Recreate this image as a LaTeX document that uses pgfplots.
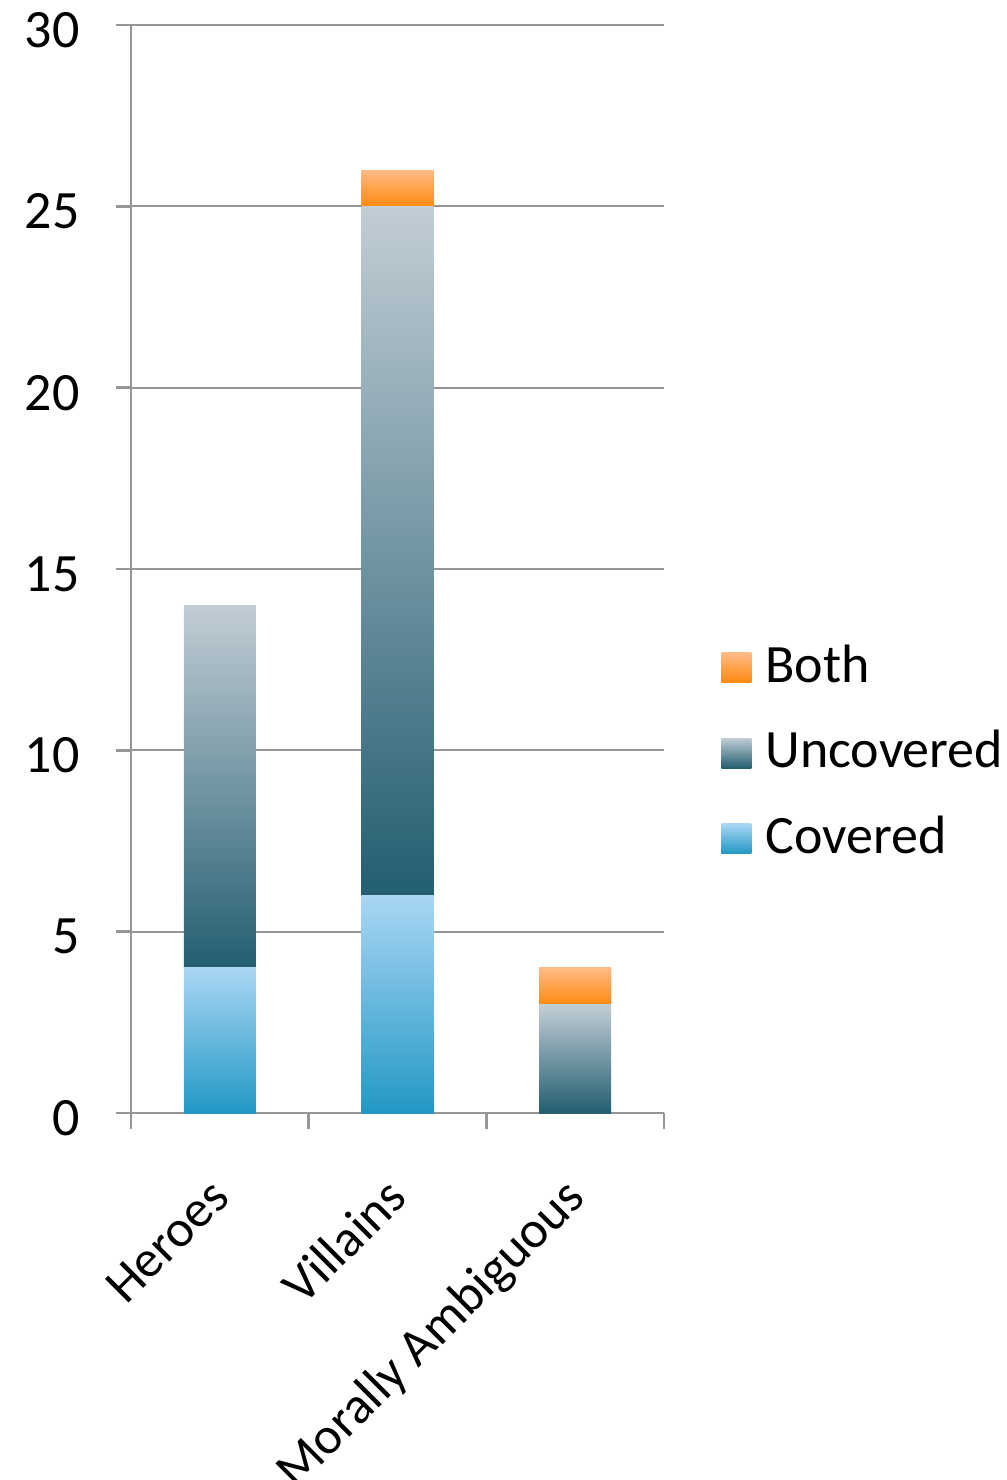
\documentclass[border=0pt]{standalone}
\usepackage{fontspec}
\setmainfont{Carlito}
\usepackage{pgfplots}
\pgfplotsset{compat=1.18}
\definecolor{covtop}{RGB}{170,214,244}
\definecolor{covbot}{RGB}{34,152,197}
\definecolor{unctop}{RGB}{194,205,213}
\definecolor{uncbot}{RGB}{35,94,113}
\definecolor{bothtop}{RGB}{255,187,135}
\definecolor{bothbot}{RGB}{255,138,15}
\definecolor{gridgray}{RGB}{150,150,150}
\pgfplotsset{
  mybase/.style={
    at={(65.5pt,-556.5pt)}, anchor=south west,
    scale only axis, width=266.5pt, height=544pt,
    ybar stacked, bar width=36pt,
    xmin=-0.5, xmax=2.5, ymin=0, ymax=30,
  },
  cov/.style={draw=none, top color=covtop, bottom color=covbot},
  unc/.style={draw=none, top color=unctop, bottom color=uncbot},
  both/.style={draw=none, top color=bothtop, bottom color=bothbot},
}
\begin{document}
\fontsize{27}{32}\selectfont
\begin{tikzpicture}
\path[use as bounding box] (0,0) rectangle (503.5pt,-740pt);
\begin{axis}[
  mybase,
  ytick={0,5,...,30},
  xtick={0,1,2}, xticklabels={Heroes,Villains,Morally Ambiguous},
  minor xtick={-0.5,0.5,1.5,2.5},
  axis x line*=bottom, axis y line*=left,
  axis line style={gridgray, line width=1.25pt, -},
  ymajorgrids, grid style={gridgray, line width=1pt},
  tick style={gridgray, line width=1.25pt},
  tick align=outside, major tick length=7.5pt, minor tick length=8pt,
  major x tick style={draw=none},
  /pgf/number format/assume math mode=true,
  ticklabel style={font=\fontsize{27}{32}\selectfont},
  yticklabel style={anchor=east, inner sep=0pt, xshift=-18pt, yshift=-2.5pt},
  xticklabel style={inner sep=0pt, xshift=6pt, yshift=-36pt, rotate=45, anchor=base east, font=\fontsize{26}{31}\selectfont},
  legend cell align=left,
  reverse legend,
  legend image code/.code={\path[#1] (0pt,-7.5pt) rectangle (15pt,7.5pt);},
  legend style={at={(1.107,0.3309)}, anchor=west, draw=none, fill=none, inner sep=0pt,
    row sep=16pt, column sep=5pt, font=\fontsize{27}{32}\selectfont},
]
\addplot[cov] coordinates {(0,4)};
\addplot[unc] coordinates {(0,10)};
\addplot[both] coordinates {(0,0)};
\legend{Covered,Uncovered,Both}
\end{axis}
\begin{axis}[mybase, hide axis]
\addplot[cov] coordinates {(1,6)};
\addplot[unc] coordinates {(1,19)};
\addplot[both] coordinates {(1,1)};
\end{axis}
\begin{axis}[mybase, hide axis]
\addplot[cov] coordinates {(2,0)};
\addplot[unc] coordinates {(2,3)};
\addplot[both] coordinates {(2,1)};
\end{axis}
\end{tikzpicture}
\end{document}
